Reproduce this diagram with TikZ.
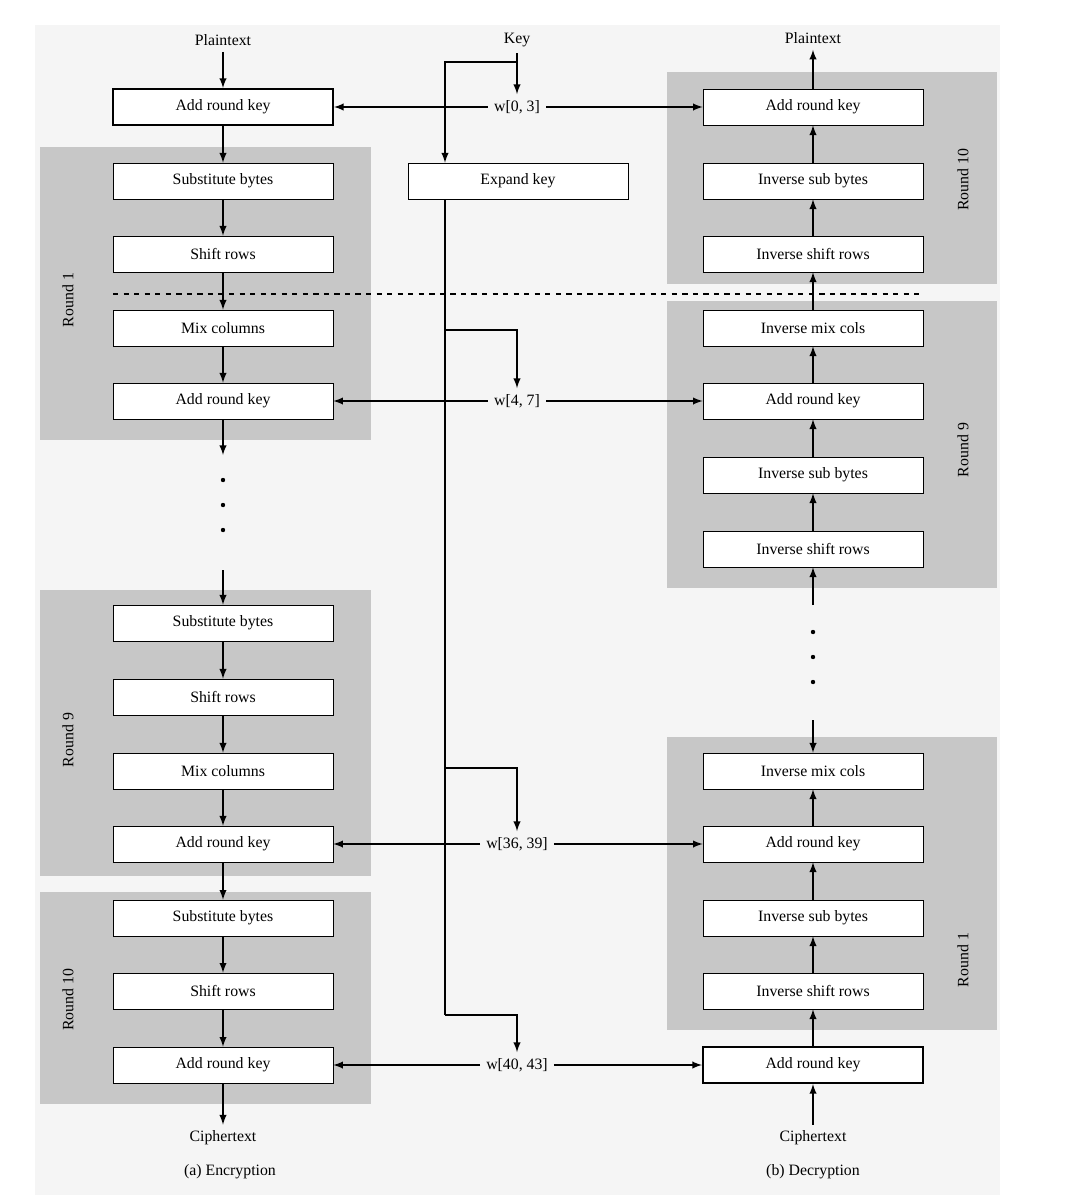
\documentclass[tikz,border=0pt]{standalone}
\usepackage{fontspec}
\setmainfont{Liberation Serif}
\begin{document}
\begin{tikzpicture}[x=0.02cm,y=-0.02cm,
  box/.style={draw,fill=white,minimum width=4.4cm,minimum height=0.72cm,inner sep=0pt,font=\small},
  tbox/.style={box,line width=1.2pt},
  panel/.style={fill=black!22,draw=none},
  lab/.style={font=\small},
  rlab/.style={font=\small,rotate=90},
  arr/.style={->,>=latex,line width=0.9pt},
  ln/.style={line width=0.9pt}]
\useasboundingbox (0,0) rectangle (1068,1200);
\fill[black!4] (35,25) rectangle (1000,1195);
% panels
\fill[panel] (40,147) rectangle (371,440);
\fill[panel] (40,590) rectangle (371,876);
\fill[panel] (40,892) rectangle (371,1104);
\fill[panel] (667,72) rectangle (997,284);
\fill[panel] (667,301) rectangle (997,588);
\fill[panel] (667,737) rectangle (997,1030);
\node[rlab] (r1) at (68,300) {Round 1};
\node[rlab] (r9) at (68,740) {Round 9};
\node[rlab] (r10) at (68,1000) {Round 10};
\node[rlab] (q10) at (963,180) {Round 10};
\node[rlab] (q9) at (963,450) {Round 9};
\node[rlab] (q1) at (963,960) {Round 1};
% left
\node[lab] (pt) at (223,40) {Plaintext};
\node[tbox] (a0) at (223,107) {Add round key};
\node[box] (s1) at (223,181) {Substitute bytes};
\node[box] (h1) at (223,254) {Shift rows};
\node[box] (m1) at (223,328) {Mix columns};
\node[box] (a1) at (223,401) {Add round key};
\node[box] (s9) at (223,623) {Substitute bytes};
\node[box] (h9) at (223,697) {Shift rows};
\node[box] (m9) at (223,771) {Mix columns};
\node[box] (a9) at (223,844) {Add round key};
\node[box] (s10) at (223,918) {Substitute bytes};
\node[box] (h10) at (223,991) {Shift rows};
\node[box] (a10) at (223,1065) {Add round key};
\node[lab] (ct) at (223,1138) {Ciphertext};
\node[lab] (enc) at (230,1172) {(a) Encryption};
\foreach \a/\b in {pt/a0,a0/s1,s1/h1,h1/m1,m1/a1,s9/h9,h9/m9,m9/a9,a9/s10,s10/h10,h10/a10,a10/ct}
  \draw[arr] (\a) -- (\b);
\coordinate (l1) at (223,455); \coordinate (l2) at (223,570);
\draw[arr] (a1) -- (l1); \draw[arr] (l2) -- (s9);
\foreach \y in {480,505,530} \fill (223,\y) circle (2.2);
% right
\node[lab] (pt2) at (813,38) {Plaintext};
\node[box] (b10a) at (813,107) {Add round key};
\node[box] (b10s) at (813,181) {Inverse sub bytes};
\node[box] (b10h) at (813,254) {Inverse shift rows};
\node[box] (b9m) at (813,328) {Inverse mix cols};
\node[box] (b9a) at (813,401) {Add round key};
\node[box] (b9s) at (813,475) {Inverse sub bytes};
\node[box] (b9h) at (813,549) {Inverse shift rows};
\node[box] (b1m) at (813,771) {Inverse mix cols};
\node[box] (b1a) at (813,844) {Add round key};
\node[box] (b1s) at (813,918) {Inverse sub bytes};
\node[box] (b1h) at (813,991) {Inverse shift rows};
\node[tbox] (b0) at (813,1065) {Add round key};
\node[lab] (ct2) at (813,1138) {Ciphertext};
\node[lab] (dec) at (813,1172) {(b) Decryption};
\foreach \a/\b in {ct2/b0,b0/b1h,b1h/b1s,b1s/b1a,b1a/b1m,b9h/b9s,b9s/b9a,b9a/b9m,b9m/b10h,b10h/b10s,b10s/b10a,b10a/pt2}
  \draw[arr] (\a) -- (\b);
\coordinate (r1a) at (813,605); \coordinate (r2a) at (813,720);
\draw[arr] (r1a) -- (b9h); \draw[arr] (r2a) -- (b1m);
\foreach \y in {632,657,682} \fill (813,\y) circle (2.2);
% dashed
\coordinate (d1) at (113,294); \coordinate (d2) at (924,294);
\draw[dashed,line width=1pt] (d1) -- (d2);
% center
\node[lab] (key) at (517,40) {Key};
\node[box] (ek) at (518,181) {Expand key};
\node[lab,fill=black!4] (w0) at (517,107) {w[0, 3]};
\node[lab,fill=black!4] (w4) at (517,401) {w[4, 7]};
\node[lab,fill=black!4] (w36) at (517,844) {w[36, 39]};
\node[lab,fill=black!4] (w40) at (517,1065) {w[40, 43]};
\coordinate (k1) at (517,62); \coordinate (k2) at (445,62);
\draw[arr] (key) -- (w0);
\draw[arr] (k1) -- (k2) -- (ek.north -| k2);
\coordinate (e0) at (445,199);
\coordinate (e1) at (445,330); \coordinate (e2) at (445,768); \coordinate (e3) at (445,1015);
\draw[ln] (e0) -- (e3);
\draw[arr] (e1) -- (517,330) -- (w4);
\draw[arr] (e2) -- (517,768) -- (w36);
\draw[arr] (e3) -- (517,1015) -- (w40);
\foreach \w/\l/\r in {w0/a0/b10a,w4/a1/b9a,w36/a9/b1a,w40/a10/b0}{
  \draw[arr] (\w) -- (\l);
  \draw[arr] (\w) -- (\r);}
\end{tikzpicture}
\end{document}
